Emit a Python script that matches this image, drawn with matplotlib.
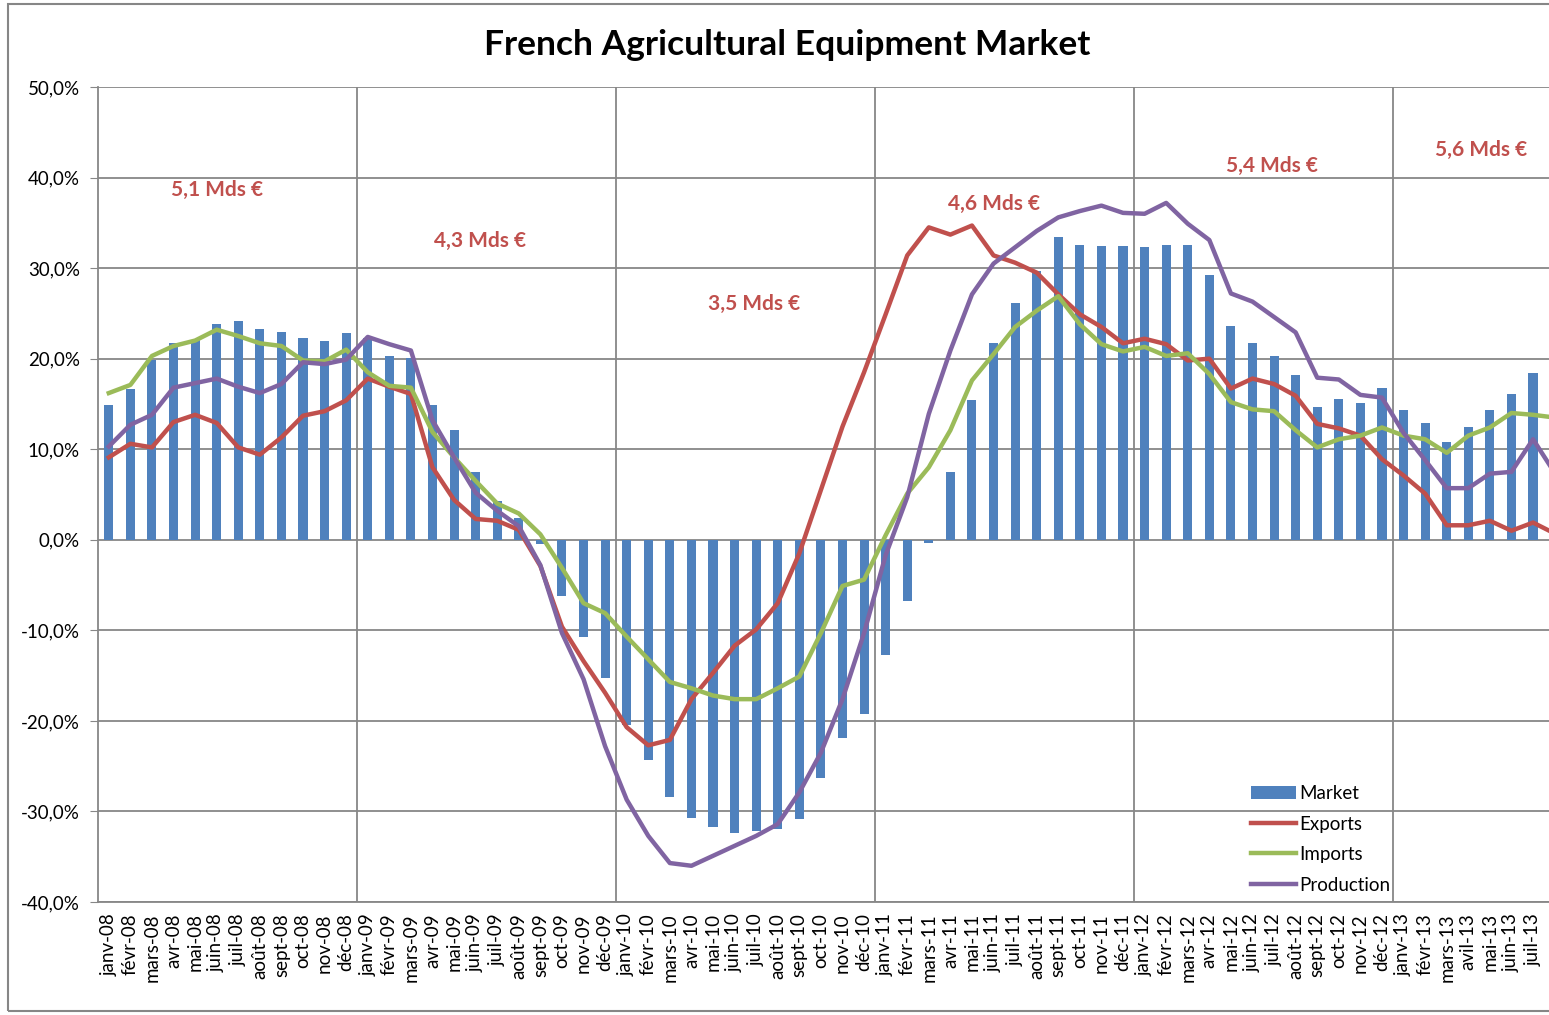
import numpy as np
import matplotlib
matplotlib.use("Agg")
from matplotlib import pyplot as plt
from matplotlib.patches import Rectangle

plt.rcParams['font.family'] = ['Lato', 'DejaVu Sans']

# month labels (note: "avil-13" as in the source chart)
mois = ['janv', 'févr', 'mars', 'avr', 'mai', 'juin', 'juil', 'août', 'sept', 'oct', 'nov', 'déc']
labels = [f"{m}-{y:02d}" for y in range(8, 13) for m in mois]
labels += ['janv-13', 'févr-13', 'mars-13', 'avil-13', 'mai-13', 'juin-13', 'juil-13', 'août-13']

# year-on-year change, %
market = [14.9, 16.6, 19.9, 21.7, 22.1, 23.8, 24.2, 23.3, 23.0, 22.3, 21.9, 22.8,
          22.3, 20.3, 20.1, 14.9, 12.1, 7.5, 4.3, 2.4, -0.5, -6.2, -10.7, -15.3,
          -20.5, -24.3, -28.4, -30.7, -31.7, -32.4, -32.2, -31.9, -30.8, -26.3, -21.9, -19.2,
          -12.7, -6.8, -0.4, 7.5, 15.4, 21.7, 26.2, 29.7, 33.4, 32.6, 32.4, 32.4,
          32.3, 32.6, 32.6, 29.2, 23.6, 21.7, 20.3, 18.2, 14.7, 15.6, 15.1, 16.8,
          14.3, 12.9, 10.8, 12.4, 14.3, 16.1, 18.4]
exports = [9.1, 10.6, 10.2, 13.0, 13.8, 12.9, 10.2, 9.4, 11.3, 13.7, 14.2, 15.4,
           17.8, 16.9, 16.1, 8.0, 4.4, 2.3, 2.1, 1.1, -2.9, -9.6, -13.4, -16.9,
           -20.7, -22.7, -22.1, -17.6, -14.7, -11.7, -9.9, -7.0, -1.5, 5.5, 12.5, 18.5,
           24.9, 31.4, 34.5, 33.7, 34.7, 31.4, 30.6, 29.5, 27.1, 24.9, 23.5, 21.7,
           22.2, 21.6, 19.8, 20.0, 16.7, 17.8, 17.2, 15.9, 12.8, 12.3, 11.5, 8.9,
           7.1, 5.1, 1.6, 1.6, 2.1, 1.0, 1.9, 0.7]
imports = [16.2, 17.1, 20.3, 21.4, 22.0, 23.2, 22.5, 21.7, 21.4, 19.8, 19.7, 21.0,
           18.5, 17.0, 16.8, 11.9, 9.1, 6.5, 4.0, 2.9, 0.6, -3.1, -7.0, -8.1,
           -10.7, -13.2, -15.7, -16.4, -17.2, -17.6, -17.6, -16.4, -15.1, -10.3, -5.1, -4.4,
           0.5, 5.1, 8.0, 12.1, 17.6, 20.5, 23.5, 25.3, 26.9, 23.8, 21.6, 20.8,
           21.3, 20.3, 20.6, 18.3, 15.2, 14.4, 14.2, 12.1, 10.2, 11.1, 11.5, 12.4,
           11.5, 11.1, 9.6, 11.5, 12.4, 14.0, 13.8, 13.5]
production = [10.3, 12.7, 13.8, 16.8, 17.3, 17.8, 16.9, 16.2, 17.2, 19.6, 19.4, 19.9,
              22.4, 21.6, 20.9, 13.2, 9.1, 5.2, 3.2, 1.5, -2.8, -10.3, -15.4, -22.8,
              -28.7, -32.7, -35.7, -36.0, -34.9, -33.8, -32.7, -31.4, -27.9, -23.5, -17.6, -10.3,
              -1.7, 4.7, 13.9, 20.9, 27.1, 30.5, 32.3, 34.1, 35.6, 36.3, 36.9, 36.1,
              36.0, 37.2, 34.9, 33.1, 27.2, 26.3, 24.6, 22.9, 17.9, 17.7, 16.0, 15.7,
              11.8, 8.8, 5.7, 5.7, 7.3, 7.5, 11.1, 7.4]

# yearly market size notes
notes = ['5,1 Mds €', '4,3 Mds €', '3,5 Mds €', '4,6 Mds €', '5,4 Mds €', '5,6 Mds €']
notes_x = [5.0, 17.2, 29.9, 41.0, 53.9, 63.6]
notes_y = [38.6, 33.0, 26.0, 37.1, 41.3, 43.0]

W, H = 1549, 1015
fig = plt.figure(figsize=(W / 100, H / 100), dpi=100)
ax = fig.add_axes([98 / W, 1 - 902 / H, 1 - 98 / W, (902 - 87) / H])

grid_c = '#878787'
bars = ax.bar(np.arange(len(market)), market, width=0.42, color='#4F81BD', label='Market', zorder=2)
x = np.arange(len(exports))
l1, = ax.plot(x, exports, color='#C0504D', lw=3.2, label='Exports', zorder=3)
l2, = ax.plot(x, imports, color='#9BBB59', lw=3.2, label='Imports', zorder=3)
l3, = ax.plot(x, production, color='#8064A2', lw=3.2, label='Production', zorder=3)

for t, tx, ty in zip(notes, notes_x, notes_y):
    ax.text(tx, ty, t, color='#C0504D', fontsize=15, fontweight='bold', ha='center', va='center')

# chart is cut on the right, just after juil-13
ax.set_ylim(-40, 50)
ax.set_xlim(-0.5, 66.74)
ax.set_yticks(range(-40, 51, 10))
ax.set_yticklabels([f"{v:.1f}%".replace('.', ',') for v in range(-40, 51, 10)])
ax.set_xticks(x[:67])
ax.set_xticklabels(labels[:67], rotation=90)
ax.tick_params(axis='y', length=6, color=grid_c, labelsize=13.5, pad=7)
ax.tick_params(axis='x', length=0, labelsize=13.5, pad=8)

ax.grid(axis='y', color=grid_c, lw=1.3)
for b in np.arange(11.5, 67, 12):
    ax.axvline(b, color=grid_c, lw=1.3, zorder=1)
ax.set_axisbelow(True)
for s in ['top', 'right']:
    ax.spines[s].set_visible(False)
for s in ['left', 'bottom']:
    ax.spines[s].set_color(grid_c)
    ax.spines[s].set_linewidth(1.3)

ax.legend([bars, l1, l2, l3], ['Market', 'Exports', 'Imports', 'Production'],
          loc='upper left', bbox_to_anchor=(0.788, 0.155), frameon=False, fontsize=13.5,
          handlelength=2.4, handletextpad=0.2, labelspacing=0.72, borderpad=0)

fig.text(787 / W, 1 - 45 / H, 'French Agricultural Equipment Market',
         fontsize=25.5, fontweight='bold', ha='center', va='center')

fig.add_artist(Rectangle((8 / W, 1 - 1011 / H), 2, (1011 - 4) / H, transform=fig.transFigure,
                         fill=False, edgecolor='#868686', lw=1.5))

fig.savefig('out.png', dpi=100)
